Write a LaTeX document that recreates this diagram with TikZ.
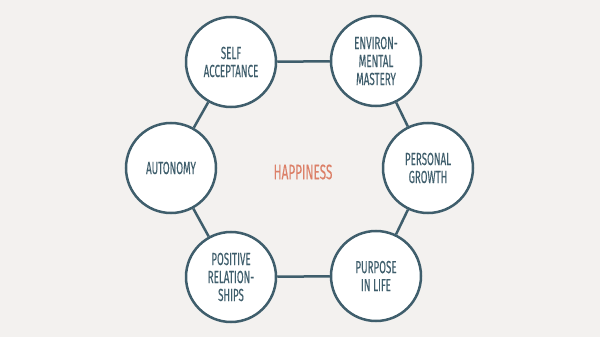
\documentclass[tikz,border=0pt]{standalone}
\usepackage{fontspec}
\newfontfamily\handfont{Fira Sans}[FakeStretch=0.56,FakeBold=0.2]
\usepackage{tikz}
\usetikzlibrary{positioning}
\definecolor{paper}{HTML}{F3F1EF}
\definecolor{slate}{HTML}{3F5E6C}
\definecolor{salmon}{HTML}{DC8068}

\begin{document}
\begin{tikzpicture}[x=1pt,y=-1pt,
  ring/.style={circle, draw=slate, line width=2.5pt, fill=white, minimum size=90pt,
    inner sep=0pt, align=center, text=slate, font=\handfont\fontsize{17.5}{18}\selectfont},
  link/.style={draw=slate, line width=2.5pt}]
\fill[paper] (0,0) rectangle (600,337);
\node[ring] (self) at (231,62) {SELF\\ACCEPTANCE};
\node[ring] (env) at (376,61) {ENVIRON-\\MENTAL\\MASTERY};
\node[ring] (growth) at (428,168) {PERSONAL\\GROWTH};
\node[ring] (purpose) at (376,276) {PURPOSE\\IN LIFE};
\node[ring] (rel) at (231,277) {POSITIVE\\RELATION-\\SHIPS};
\node[ring] (auto) at (171,168) {AUTONOMY};
\node[text=salmon, font=\handfont\fontsize{21}{21}\selectfont] (happy) at (303,172) {HAPPINESS};
\draw[link] (self) -- (env);
\draw[link] (env) -- (growth);
\draw[link] (growth) -- (purpose);
\draw[link] (purpose) -- (rel);
\draw[link] (rel) -- (auto);
\draw[link] (auto) -- (self);
\end{tikzpicture}
\end{document}
